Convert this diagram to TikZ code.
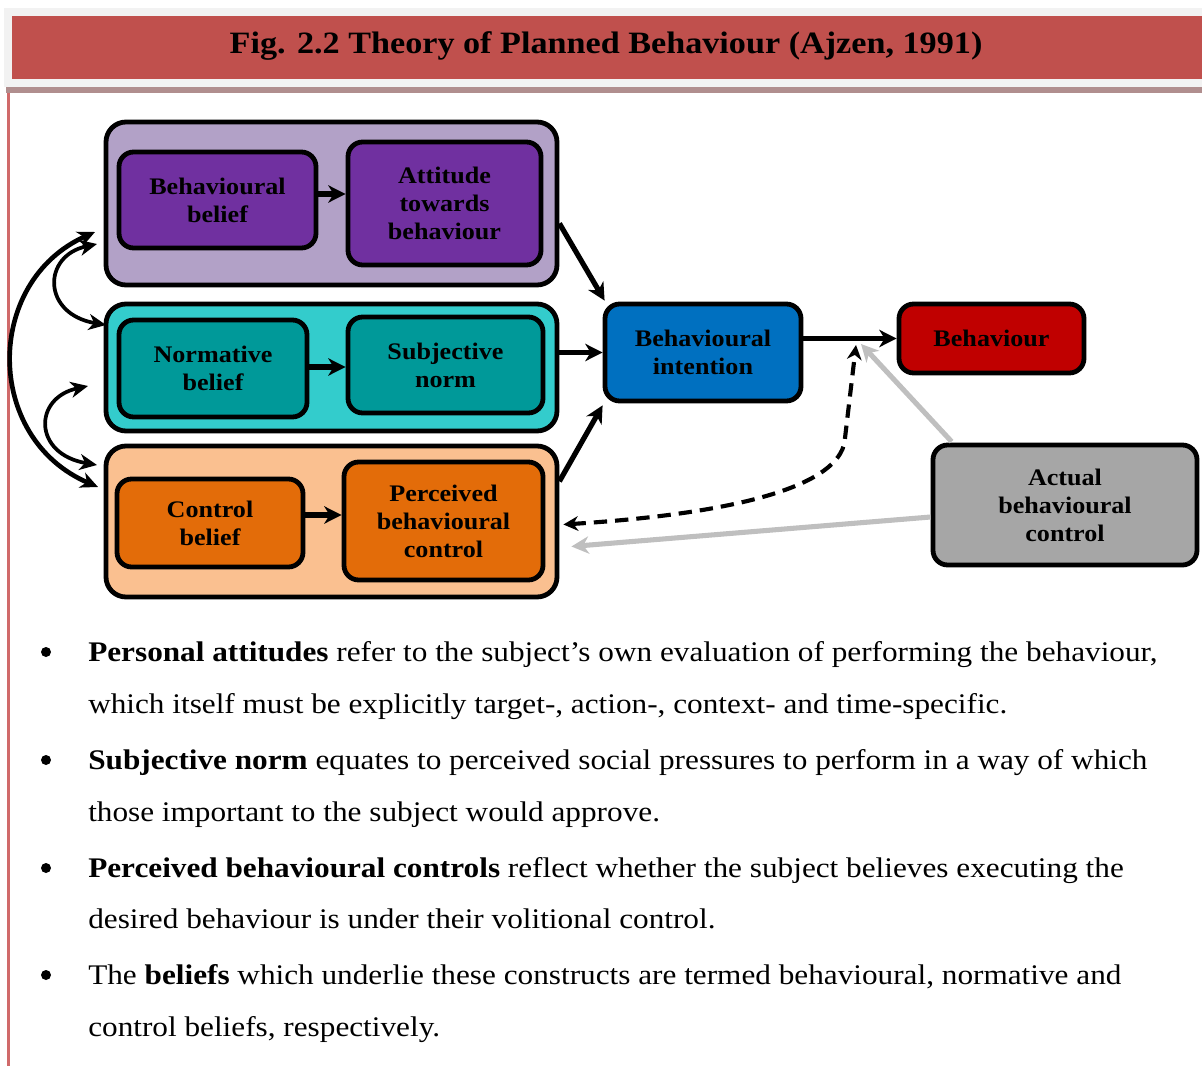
\documentclass[tikz,border=0pt]{standalone}
\usepackage{fontspec}
\setmainfont{Liberation Serif}[FakeStretch=1.1]
\usetikzlibrary{arrows.meta,calc}
\definecolor{titlered}{HTML}{C0504D}
\definecolor{titlegray}{HTML}{F2F2F2}
\definecolor{rulebar}{HTML}{B08E8E}
\definecolor{sideline}{HTML}{D06A6A}
\definecolor{lilac}{HTML}{B2A1C7}
\definecolor{purple}{HTML}{7030A0}
\definecolor{aqua}{HTML}{33CCCC}
\definecolor{tealdark}{HTML}{009999}
\definecolor{peach}{HTML}{FAC090}
\definecolor{orangedark}{HTML}{E36C09}
\definecolor{blueint}{HTML}{0070C0}
\definecolor{redbeh}{HTML}{C00000}
\definecolor{grayabc}{HTML}{A6A6A6}
\definecolor{lightarrow}{HTML}{BFBFBF}
\begin{document}
\begin{tikzpicture}[x=0.75pt,y=-0.75pt,
  groupbox/.style={draw=black,line width=3.6pt,rounded corners=15pt,inner sep=0pt},
  itembox/.style={draw=black,line width=3.6pt,rounded corners=11pt,inner sep=0pt,
    align=center,font=\fontsize{17.8}{21}\selectfont\bfseries},
  conn/.style={line width=3.9pt,-{Stealth[length=13pt,width=13pt,inset=4pt]}},
  twoway/.style={line width=#1,{Stealth[length=13pt,width=12pt,inset=4pt]}-{Stealth[length=13pt,width=12pt,inset=4pt]}},
  feedback/.style={line width=3.1pt,dash pattern=on 10pt off 6pt,
    {Stealth[length=11pt,width=11pt,inset=3.5pt]}-{Stealth[length=11pt,width=11pt,inset=3.5pt]}},
  grayconn/.style={line width=3.8pt,draw=lightarrow,-{Stealth[length=13pt,width=13pt,inset=4pt]}},
  bodytext/.style={anchor=base west,inner sep=0pt,font=\fontsize{21.3}{25}\selectfont},
  bulletdot/.style={circle,fill=black,inner sep=0pt,minimum size=7.5pt}]
\useasboundingbox (0,0) rectangle (1202,1066);

% heading band
\fill[titlegray] (4,8) rectangle (1202,87);
\fill[titlered] (12,16) rectangle (1202,79);
\fill[rulebar] (6,87) rectangle (1202,93);
\fill[sideline] (7,93) rectangle (9.5,1066);
\node[font=\fontsize{23.3}{27}\selectfont\bfseries] (title) at (606,46)
  {Fig. 2.2 Theory of Planned Behaviour (Ajzen, 1991)};

% construct groups
\node[groupbox,fill=lilac,minimum width=338.25pt,minimum height=122.25pt] (PO) at (331.5,203.5) {};
\node[groupbox,fill=aqua,minimum width=338.25pt,minimum height=95.25pt] (TO) at (331.5,367.5) {};
\node[groupbox,fill=peach,minimum width=338.25pt,minimum height=113.25pt] (OO) at (331.5,521.5) {};

% belief and construct boxes
\node[itembox,fill=purple,minimum width=147.75pt,minimum height=72pt] (BB) at (217.5,200) {Behavioural\\belief};
\node[itembox,fill=purple,minimum width=144.75pt,minimum height=92.25pt] (ATB) at (444.5,203.5) {Attitude\\towards\\behaviour};
\node[itembox,fill=tealdark,minimum width=141pt,minimum height=72.75pt] (NB) at (213,368.5) {Normative\\belief};
\node[itembox,fill=tealdark,minimum width=146.25pt,minimum height=72pt] (SN) at (445.5,365) {Subjective\\norm};
\node[itembox,fill=orangedark,minimum width=139.5pt,minimum height=66pt] (CB) at (210,523) {Control\\belief};
\node[itembox,fill=orangedark,minimum width=149.25pt,minimum height=88.5pt] (PBC) at (443.5,521) {Perceived\\behavioural\\control};
\node[itembox,fill=blueint,minimum width=147pt,minimum height=72.75pt] (BI) at (703,352.5) {Behavioural\\intention};
\node[itembox,fill=redbeh,minimum width=138.75pt,minimum height=51.75pt] (B) at (991.5,338.5) {Behaviour};
\node[itembox,fill=grayabc,minimum width=198pt,minimum height=90pt] (ABC) at (1065,505) {Actual\\behavioural\\control};

% junction points on the intention-behaviour link
\coordinate (jd) at (856,345);
\coordinate (jg) at (861,344);

% links inside the groups
\draw[conn] (BB.east |- 0,194) -- (ATB.west |- 0,194);
\draw[conn] (NB.east |- 0,367) -- (SN.west |- 0,367);
\draw[conn] (CB.east |- 0,515) -- (PBC.west |- 0,515);

% links to intention and behaviour
\draw[conn] (PO.-5) -- ($(BI.north west)+(2,-1)$);
\draw[conn] (BI.west -| TO.east) -- (BI.west);
\draw[conn] (OO.10.5) -- ($(BI.south west)+(0,2)$);
\draw[conn] (BI.east |- B.west) -- (B.west);

% actual control links
\draw[grayconn] ($(ABC.north west)+(21,-1)$) -- (jg);
\draw[grayconn] ($(ABC.west)+(0,12)$) -- ($(OO.east)+(12,25)$);
\draw[feedback] ($(OO.east)+(4,3)$) .. controls (760,512) and (843,480) .. (845,438) -- (jd);

% correlations between the belief groups
\coordinate (c1a) at (95,232);
\coordinate (c1b) at (98,487);
\coordinate (c2a) at (97,244);
\coordinate (c2b) at (106,325);
\coordinate (c3a) at (88,386);
\coordinate (c3b) at (97,465);
\draw[twoway=3.5pt] (c1a) .. controls (-16,282) and (-16,438) .. (c1b);
\draw[twoway=2.8pt] (c2a) .. controls (42,256) and (42,314) .. (c2b);
\draw[twoway=2.8pt] (c3a) .. controls (33,398) and (33,454) .. (c3b);

% explanatory notes
\node[bulletdot] (d1) at (46,652) {};
\node[bulletdot] (d2) at (46,760) {};
\node[bulletdot] (d3) at (46,868) {};
\node[bulletdot] (d4) at (46,975) {};
\node[bodytext] (t1a) at (88,661) {\textbf{Personal attitudes} refer to the subject’s own evaluation of performing the behaviour,};
\node[bodytext] (t1b) at (88,713) {which itself must be explicitly target-, action-, context- and time-specific.};
\node[bodytext] (t2a) at (88,769) {\textbf{Subjective norm} equates to perceived social pressures to perform in a way of which};
\node[bodytext] (t2b) at (88,821) {those important to the subject would approve.};
\node[bodytext] (t3a) at (88,877) {\textbf{Perceived behavioural controls} reflect whether the subject believes executing the};
\node[bodytext] (t3b) at (88,928) {desired behaviour is under their volitional control.};
\node[bodytext] (t4a) at (88,984) {The \textbf{beliefs} which underlie these constructs are termed behavioural, normative and};
\node[bodytext] (t4b) at (88,1036) {control beliefs, respectively.};
\end{tikzpicture}
\end{document}
